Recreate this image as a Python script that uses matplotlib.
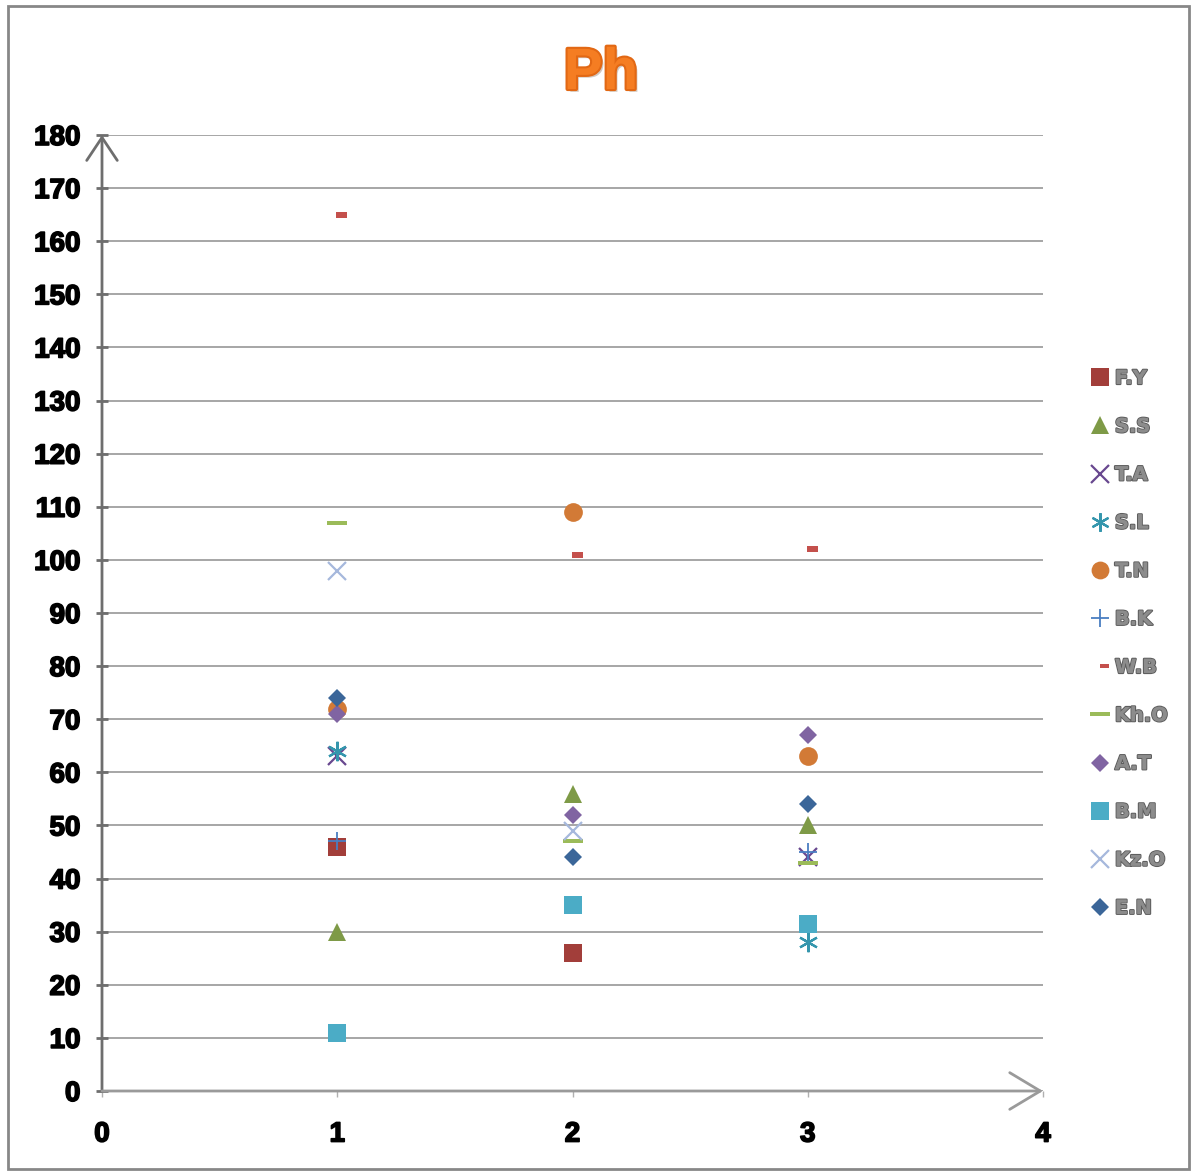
import numpy as np
import matplotlib
matplotlib.use("Agg")
import matplotlib.pyplot as plt
from matplotlib.path import Path
import matplotlib.patheffects as pe

# ---- data -------------------------------------------------------------
x_pos = [1, 2, 3]
series_names = ["F.Y", "S.S", "T.A", "S.L", "T.N", "B.K", "W.B", "Kh.O",
                "A.T", "B.M", "Kz.O", "E.N"]
nan = np.nan
fy = [46, 26, nan]
ss = [30, 56, 50]
ta = [63, nan, 44]
sl = [64, nan, 28]
tn = [72, 109, 63]
bk = [47, nan, 45]
wb = [165, 101, 102]
kho = [107, 47, 43]
at = [71, 52, 67]
bm = [11, 35, 31.5]
kzo = [98, 49, nan]
en = [74, 44, 54]
y_ticks = list(range(0, 181, 10))
x_ticks = [0, 1, 2, 3, 4]
title_text = "Ph"

label_font = ["Liberation Sans", "DejaVu Sans"]

# ---- marker shapes -----------------------------------------------------
# short dash drawn to the right of its point
short_dash = Path([(-0.5, -2.5), (9.5, -2.5), (9.5, 2.5), (-0.5, 2.5), (-0.5, -2.5)],
                  [Path.MOVETO, Path.LINETO, Path.LINETO, Path.LINETO, Path.CLOSEPOLY])
long_dash = Path([(-10.5, -2.5), (10.5, -2.5), (10.5, 2.5), (-10.5, 2.5), (-10.5, -2.5)],
                 [Path.MOVETO, Path.LINETO, Path.LINETO, Path.LINETO, Path.CLOSEPOLY])

styles = [
    dict(marker="s", ms=13.5, color="#A23E3A"),
    dict(marker="^", ms=13.5, color="#7E9A47"),
    dict(marker="x", ms=13, color="#68488F", mew=1.6),
    dict(marker=(6, 2, 0), ms=14, color="#3596AD", mew=1.6),
    dict(marker="o", ms=13.5, color="#D27A36"),
    dict(marker="+", ms=13, color="#4A7EC2", mew=1.3),
    dict(marker=short_dash, ms=13.7, color="#C4504C"),
    dict(marker=long_dash, ms=15.1, color="#9BBB59"),
    dict(marker="D", ms=9.3, color="#8064A2"),
    dict(marker="s", ms=13.5, color="#4BACC6"),
    dict(marker="x", ms=13, color="#A6B8DC", mew=1.6),
    dict(marker="D", ms=9.3, color="#3B6699"),
]
values = [fy, ss, ta, sl, tn, bk, wb, kho, at, bm, kzo, en]

# ---- figure ------------------------------------------------------------
W, H = 1195, 1173
fig = plt.figure(figsize=(W / 100, H / 100), dpi=100)
fig.patch.set_facecolor("white")

# outer chart border
fig.add_artist(plt.Rectangle((8 / W, 1 - 1169 / H), (1189 - 8) / W, (1169 - 6) / H,
                             transform=fig.transFigure, fill=False,
                             edgecolor="#878787", linewidth=2))

ax = fig.add_axes([102 / W, 1 - 1091 / H, (1043 - 102) / W, (1091 - 135) / H])
ax.set_xlim(0, 4)
ax.set_ylim(0, 180)
for s in ax.spines.values():
    s.set_visible(False)

ax.set_yticks(y_ticks)
ax.set_xticks(x_ticks)
ax.grid(axis="y", color="#A6A6A6", linewidth=1.4, zorder=0)
ax.set_axisbelow(True)

ax.tick_params(axis="y", direction="inout", length=9, width=2, color="#6E6E6E", pad=11)
ax.tick_params(axis="x", direction="out", length=4, width=1, color="#B0B0B0", pad=18)

stroke_black = [pe.withStroke(linewidth=1.2, foreground="black")]
for lab in ax.get_yticklabels() + ax.get_xticklabels():
    lab.set_fontfamily(label_font)
    lab.set_fontweight("bold")
    lab.set_fontsize(20)
    lab.set_color("black")
    lab.set_path_effects(stroke_black)

# axis lines with open arrow heads
ax.annotate("", xy=(0, 180), xytext=(0, 0), xycoords="data",
            arrowprops=dict(arrowstyle="->,head_length=0.75,head_width=0.5",
                            color="#6E6E6E", lw=2, shrinkA=0, shrinkB=0,
                            mutation_scale=22),
            annotation_clip=False, zorder=3)
ax.annotate("", xy=(4, 0), xytext=(0, 0), xycoords="data",
            arrowprops=dict(arrowstyle="->,head_length=1.0,head_width=0.6",
                            color="#9A9A9A", lw=2, shrinkA=0, shrinkB=0,
                            mutation_scale=22),
            annotation_clip=False, zorder=3)

# scatter series
for name, vals, st in zip(series_names, values, styles):
    kw = dict(st)
    color = kw.pop("color")
    mew = kw.pop("mew", 0)
    ax.plot(x_pos, vals, linestyle="none", marker=kw["marker"], markersize=kw["ms"],
            color=color, markerfacecolor=color, markeredgecolor=color,
            markeredgewidth=mew, label=name, zorder=4, clip_on=False)

# title
fig.text(601 / W, 1 - 89 / H, title_text, ha="center", va="baseline",
         fontsize=42, fontweight="bold", family=label_font,
         color="#F57D22",
         path_effects=[pe.SimplePatchShadow(offset=(2, -2), alpha=0.25),
                       pe.withStroke(linewidth=3, foreground="#E26814")])

# legend
leg = ax.legend(loc="upper left", bbox_to_anchor=(1091 / W, 1 - 369 / H),
                bbox_transform=fig.transFigure, frameon=False,
                prop=dict(family="DejaVu Sans", weight="bold", size=14),
                handlelength=0.95, handletextpad=0.28, labelspacing=1.5,
                borderpad=0, borderaxespad=0, markerscale=0.95, numpoints=1)
for t in leg.get_texts():
    t.set_color("#8C8C8C")
    t.set_path_effects([pe.withStroke(linewidth=1.6, foreground="#5E5E5E"), pe.Normal()])

fig.savefig("out.png", dpi=100, facecolor="white")
